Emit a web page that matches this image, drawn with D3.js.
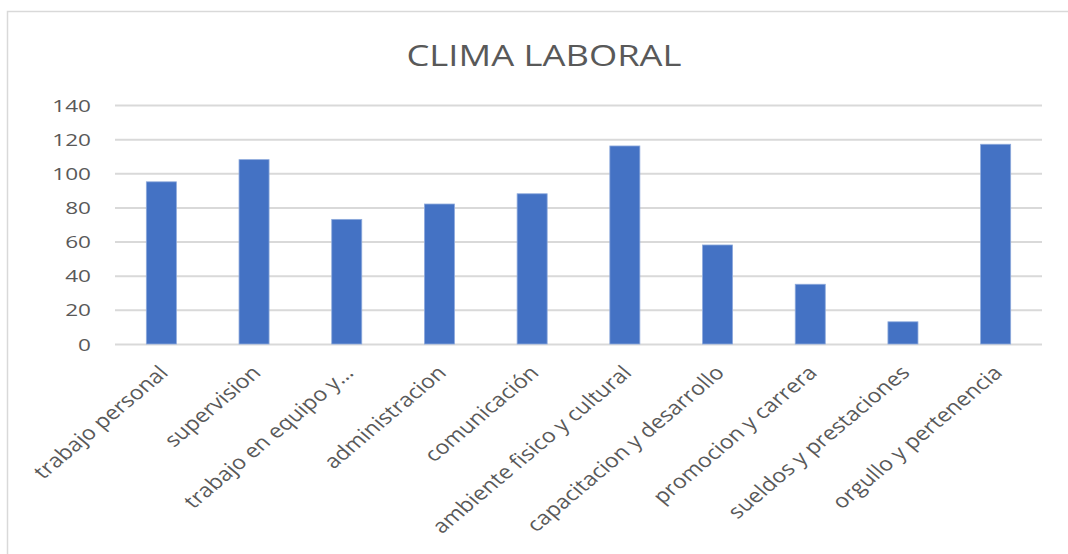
<!DOCTYPE html>
<html><head><meta charset="utf-8">
<script src="https://cdn.jsdelivr.net/npm/d3@7"></script>
<style>body{margin:0;background:#fff}svg{display:block}</style>
</head><body>
<svg id="c" width="1068" height="554"></svg>
<script>
const categories = ["trabajo personal","supervision","trabajo en equipo y…","administracion","comunicación","ambiente fisico y cultural","capacitacion y desarrollo","promocion y carrera","sueldos y prestaciones","orgullo y pertenencia"];
const values = [95,108,73,82,88,116,58,35,13,117];
const yTicks = [0,20,40,60,80,100,120,140];
const title = "CLIMA LABORAL";

const svg = d3.select("#c");
const m = {left:115, right:1042, top:105, bottom:344};
svg.append("rect").attr("x",7.5).attr("y",11.5).attr("width",1080).attr("height",600)
  .attr("fill","#fff").attr("stroke","#d9d9d9").attr("stroke-width",1.5);

const x = d3.scaleBand().domain(categories).range([m.left,m.right]).paddingInner(0.676).paddingOuter(0.338);
const y = d3.scaleLinear().domain([0,140]).range([m.bottom,m.top]);

const ya = svg.append("g").attr("transform",`translate(${m.left},0)`)
  .call(d3.axisLeft(y).tickValues(yTicks).tickSize(-(m.right-m.left)));
ya.select(".domain").remove();
ya.selectAll(".tick line").attr("stroke","#d9d9d9").attr("stroke-width",2);
ya.selectAll(".tick text").attr("fill","#595959").style("font-family","'Open Sans'").style("font-size","17px")
  .attr("x",0).attr("dy","0.36em").attr("text-anchor","end").attr("transform","translate(-24,0) scale(1.33,1)");

svg.append("g").selectAll("rect").data(values).join("rect")
  .attr("x",(d,i)=>x(categories[i])).attr("width",x.bandwidth())
  .attr("y",d=>y(d)).attr("height",d=>y(0)-y(d))
  .attr("fill","#4472c4").attr("stroke","#8eaadc").attr("stroke-width",0.8);

const xa = svg.append("g").attr("transform",`translate(0,${m.bottom})`)
  .call(d3.axisBottom(x).tickSize(0).tickPadding(0));
xa.select(".domain").remove();
xa.selectAll(".tick text").attr("fill","#595959").style("font-family","'Open Sans'").style("font-size","19.5px")
  .attr("text-anchor","end").attr("y",0).attr("dy","0").attr("transform","translate(8,30) scale(1.19,1) rotate(-45)");

svg.append("text").attr("x",544).attr("y",65.5).attr("text-anchor","middle")
  .attr("fill","#595959").style("font-family","'Open Sans'").style("font-size","30px")
  .attr("textLength",275).attr("lengthAdjust","spacingAndGlyphs").text(title);
</script>
</body></html>
